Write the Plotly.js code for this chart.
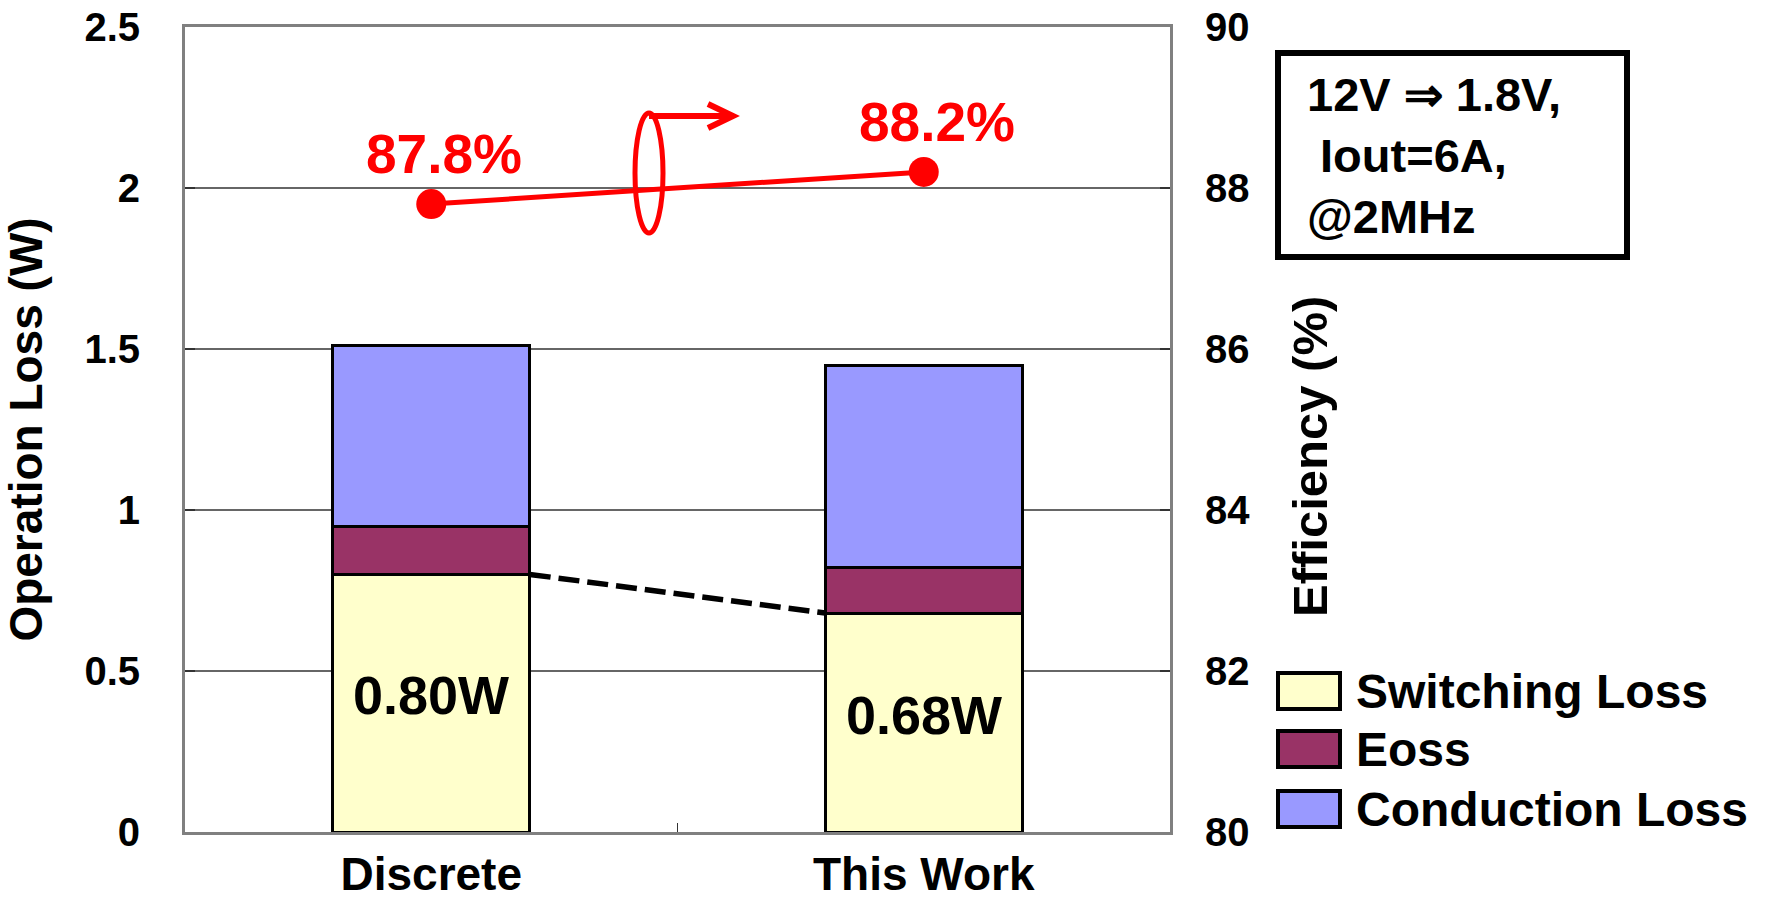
<!DOCTYPE html>
<html>
<head>
<meta charset="utf-8">
<script src="https://cdn.plot.ly/plotly-3.0.1.min.js"></script>
<style>
  html, body { margin: 0; padding: 0; background: #ffffff; }
  #chart { width: 1765px; height: 903px; }
</style>
</head>
<body>
<div id="chart"></div>
<script>
// Loss breakdown (W) per design and converter efficiency (%)
const categories = ['Discrete', 'This Work'];
const switchingLoss = [0.80, 0.68];
const eossLoss = [0.15, 0.14];
const conductionLoss = [0.56, 0.63];
const efficiency = [87.8, 88.2];
const seriesNames = ['Switching Loss', 'Eoss', 'Conduction Loss'];
const conditionLines = ['12V \u21D2 1.8V,', '\u00A0Iout=6A,', '@2MHz'];

// Styling
const seriesColors = ['#FFFFCC', '#993366', '#9999FF'];
const FONT = 'Liberation Sans, Arial, Helvetica, sans-serif';
const W = 1765, H = 903;
const M = { l: 185, r: 595, t: 27, b: 71 };
const plotW = W - M.l - M.r, plotH = H - M.t - M.b;
// pixel -> paper fraction helpers for decorations outside the data
const px = x => (x - M.l) / plotW;
const py = y => (H - M.b - y) / plotH;

const xIdx = categories.map((_, i) => i);
const barWidth = 0.4;
const seriesValues = [switchingLoss, eossLoss, conductionLoss];

const traces = seriesValues.map((vals, k) => ({
  type: 'bar',
  name: seriesNames[k],
  x: xIdx,
  y: vals,
  width: barWidth,
  marker: { color: seriesColors[k], line: { color: '#000000', width: 3 } },
  hoverinfo: 'skip',
  showlegend: false
}));

// dashed connector between switching-loss tops
traces.push({
  type: 'scatter',
  mode: 'lines',
  x: [xIdx[0] + barWidth / 2, xIdx[1] - barWidth / 2],
  y: switchingLoss,
  line: { color: '#000000', width: 5.5, dash: '21px,8px' },
  hoverinfo: 'skip',
  showlegend: false
});

// efficiency on the secondary axis
traces.push({
  type: 'scatter',
  mode: 'lines+markers',
  x: xIdx,
  y: efficiency,
  yaxis: 'y2',
  line: { color: '#FF0000', width: 5 },
  marker: { color: '#FF0000', size: 30 },
  hoverinfo: 'skip',
  showlegend: false
});

const annotations = [];

// efficiency value labels
efficiency.forEach((v, i) => {
  annotations.push({
    x: xIdx[i], y: v, xref: 'x', yref: 'y2',
    text: v.toFixed(1) + '%', showarrow: false,
    xshift: 13, yshift: 50,
    font: { family: FONT, size: 55, color: '#FF0000', weight: 'bold' }
  });
});

// switching-loss labels inside the bars
switchingLoss.forEach((v, i) => {
  annotations.push({
    x: xIdx[i], y: v / 2, xref: 'x', yref: 'y',
    text: v.toFixed(2) + 'W', showarrow: false, yshift: 8,
    font: { family: FONT, size: 54, color: '#000000', weight: 'bold' }
  });
});

// right axis title
annotations.push({
  x: px(1339), y: py(457), xref: 'paper', yref: 'paper',
  text: 'Efficiency (%)', textangle: -90, showarrow: false,
  font: { family: FONT, size: 49, color: '#000000', weight: 'bold' }
});

// operating conditions box text
annotations.push({
  x: px(1305), y: py(155), xref: 'paper', yref: 'paper',
  xanchor: 'left', yanchor: 'middle', align: 'left',
  text: conditionLines.join('<br>'), showarrow: false,
  font: { family: FONT, size: 47, color: '#000000', weight: 'bold' }
});

const shapes = [];

// conditions frame
shapes.push({
  type: 'rect', xref: 'paper', yref: 'paper',
  x0: px(1278), x1: px(1627), y0: py(257), y1: py(53),
  line: { color: '#000000', width: 6 }, fillcolor: 'rgba(0,0,0,0)'
});

// legend: swatches and names
const legendRowY = [691, 749, 809];
const swatch = { x0: 1278, x1: 1340, h: 36, textX: 1354 };
seriesNames.forEach((name, k) => {
  const cy = legendRowY[k];
  shapes.push({
    type: 'rect', xref: 'paper', yref: 'paper',
    x0: px(swatch.x0), x1: px(swatch.x1),
    y0: py(cy + swatch.h / 2), y1: py(cy - swatch.h / 2),
    line: { color: '#000000', width: 4 }, fillcolor: seriesColors[k]
  });
  annotations.push({
    x: px(swatch.textX), y: py(cy), xref: 'paper', yref: 'paper',
    xanchor: 'left', yanchor: 'middle', text: name, showarrow: false,
    font: { family: FONT, size: 48, color: '#000000', weight: 'bold' }
  });
});

// axis pointer: ellipse around the efficiency line with an arrow to the right axis
shapes.push({
  type: 'circle', xref: 'paper', yref: 'paper',
  x0: px(635), x1: px(663), y0: py(233), y1: py(113),
  line: { color: '#FF0000', width: 5 }, fillcolor: 'rgba(0,0,0,0)'
});
shapes.push({
  type: 'path', xref: 'paper', yref: 'paper',
  path: `M ${px(649)},${py(116)} L ${px(733)},${py(116)} M ${px(708)},${py(104)} L ${px(733)},${py(116)} L ${px(708)},${py(128)}`,
  line: { color: '#FF0000', width: 6 }
});

const tickFont = { family: FONT, size: 40, color: '#000000', weight: 'bold' };

const layout = {
  width: W, height: H,
  margin: M,
  paper_bgcolor: '#FFFFFF', plot_bgcolor: '#FFFFFF',
  barmode: 'stack',
  showlegend: false,
  xaxis: {
    range: [-0.5, 1.5],
    tickvals: xIdx, ticktext: categories,
    ticks: '', showgrid: false, zeroline: false,
    showline: true, linecolor: '#808080', linewidth: 3, mirror: true,
    tickfont: { family: FONT, size: 46, color: '#000000', weight: 'bold' },
    ticklabelstandoff: 0,
    minor: { tickvals: [0.5], ticks: 'inside', ticklen: 9, tickcolor: '#333333', tickwidth: 1.5 }
  },
  yaxis: {
    range: [0, 2.5], dtick: 0.5,
    title: { text: 'Operation Loss (W)', standoff: 30,
             font: { family: FONT, size: 46, color: '#000000', weight: 'bold' } },
    tickfont: tickFont,
    ticks: 'inside', ticklen: 10, tickcolor: '#333333', tickwidth: 1.5,
    ticklabelstandoff: 34,
    showgrid: true, gridcolor: '#666666', gridwidth: 1.5,
    zeroline: false,
    showline: true, linecolor: '#808080', linewidth: 3, mirror: true
  },
  yaxis2: {
    range: [80, 90], dtick: 2,
    overlaying: 'y', side: 'right',
    tickfont: tickFont,
    ticks: 'inside', ticklen: 10, tickcolor: '#333333', tickwidth: 1.5,
    ticklabelstandoff: 34,
    showgrid: false, zeroline: false, showline: false
  },
  annotations: annotations,
  shapes: shapes
};

Plotly.newPlot('chart', traces, layout, { staticPlot: true, displayModeBar: false });
</script>
</body>
</html>
